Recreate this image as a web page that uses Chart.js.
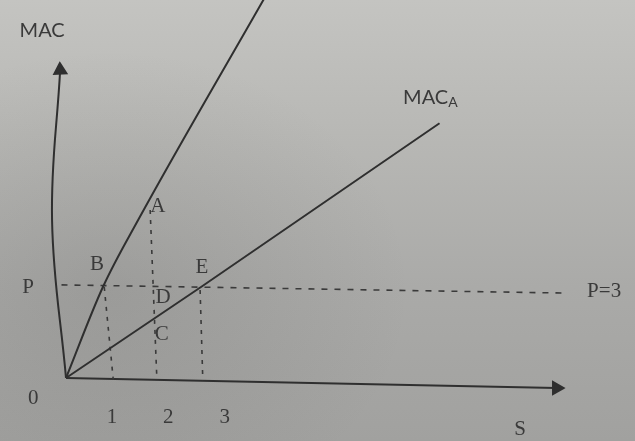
<!DOCTYPE html>
<html>
<head>
<meta charset="utf-8">
<script src="https://cdn.jsdelivr.net/npm/chart.js@4/dist/chart.umd.min.js"></script>
<style>
  html, body { margin: 0; padding: 0; }
  body {
    width: 635px; height: 441px; overflow: hidden;
    background:
      radial-gradient(ellipse 300px 240px at 110px 290px, rgba(80,80,78,0.16), rgba(80,80,78,0) 100%),
      linear-gradient(to bottom, #c4c4c1 0%, #b8b8b5 30%, #aaaaa8 65%, #a1a19f 100%);
  }
  #wrap { position: relative; width: 635px; height: 441px; }
</style>
</head>
<body>
<div id="wrap"><canvas id="macChart" width="635" height="441"></canvas></div>
<script>
// Data: x = S (abatement), y = MAC
// steep curve (unlabelled MAC of the other firm)
const steepS = [0, 0.82, 1.6, 4.4];
const steepM = [0, 3.0, 5.2, 12.5];
// MAC_A
const macAS = [0, 3, 8.3];
const macAM = [0, 3, 8.4];
// price line P = 3
const priceS = [-0.1, 11.1];
const priceM = [3.07, 2.8];
// dropped dashed lines at B, A/D/C and E
const dropB = { s: [0.85, 1.05], m: [3.0, -0.05] };
const dropA = { s: [1.87, 2.02], m: [5.54, -0.07] };
const dropE = { s: [2.98, 3.04], m: [2.9, -0.07] };
// axes (slightly bent in the photo)
const xAxisS = [0, 10.9];
const xAxisM = [0, -0.33];
const yAxisS = [0, -0.31, -0.13];
const yAxisM = [0, 5.21, 10.15];

const xTickLabels = ['1', '2', '3'];
const xTickPos = [1.02, 2.27, 3.53];

const ink = '#2f2f2f';
const dashInk = '#3a3a3a';
const textInk = '#3a3a3a';

function pts(xs, ys) {
    return xs.map((x, i) => ({ x: x, y: ys[i] }));
}

// Text labels placed in data coordinates
const labels = [
    { t: 'A', s: 2.04, m: 5.64 },
    { t: 'B', s: 0.69, m: 3.73 },
    { t: 'E', s: 3.02, m: 3.63 },
    { t: 'D', s: 2.16, m: 2.67 },
    { t: 'C', s: 2.13, m: 1.42 },
    { t: 'P', s: -0.84, m: 2.97 },
    { t: '0', s: -0.73, m: -0.66 },
    { t: 'S', s: 10.09, m: -1.71 }
];

const textPlugin = {
    id: 'textPlugin',
    afterDatasetsDraw(chart) {
        const ctx = chart.ctx;
        const xs = chart.scales.x, ys = chart.scales.y;
        ctx.save();
        ctx.fillStyle = textInk;
        ctx.textAlign = 'center';
        ctx.textBaseline = 'middle';
        ctx.font = '21px "Liberation Serif"';
        labels.forEach(l => {
            ctx.fillText(l.t, xs.getPixelForValue(l.s), ys.getPixelForValue(l.m));
        });
        xTickLabels.forEach((t, i) => {
            ctx.fillText(t, xs.getPixelForValue(xTickPos[i]), ys.getPixelForValue(-1.3));
        });
        // P=3
        ctx.textAlign = 'left';
        ctx.fillText('P=3', xs.getPixelForValue(11.58), ys.getPixelForValue(2.84));
        // MAC (y axis title)
        ctx.font = '20px Lato';
        ctx.textAlign = 'center';
        ctx.fillText('MAC', xs.getPixelForValue(-0.53), ys.getPixelForValue(11.47));
        // MAC_A
        ctx.textAlign = 'left';
        const mx = xs.getPixelForValue(7.49), my = ys.getPixelForValue(9.26);
        ctx.fillText('MAC', mx, my);
        const w = ctx.measureText('MAC').width;
        ctx.font = '14px Lato';
        ctx.fillText('A', mx + w, my + 5);
        ctx.restore();
    }
};

new Chart(document.getElementById('macChart'), {
    type: 'scatter',
    data: {
        datasets: [
            {
                data: pts(steepS, steepM),
                showLine: true, borderColor: ink, borderWidth: 2, pointRadius: 0,
                cubicInterpolationMode: 'monotone'
            },
            {
                data: pts(macAS, macAM),
                showLine: true, borderColor: ink, borderWidth: 2, pointRadius: 0
            },
            {
                data: pts(priceS, priceM),
                showLine: true, borderColor: dashInk, borderWidth: 1.6,
                borderDash: [6, 7], pointRadius: 0
            },
            {
                data: pts(dropB.s, dropB.m),
                showLine: true, borderColor: dashInk, borderWidth: 1.6,
                borderDash: [4, 6], pointRadius: 0
            },
            {
                data: pts(dropA.s, dropA.m),
                showLine: true, borderColor: dashInk, borderWidth: 1.6,
                borderDash: [4, 6], pointRadius: 0
            },
            {
                data: pts(dropE.s, dropE.m),
                showLine: true, borderColor: dashInk, borderWidth: 1.6,
                borderDash: [4, 6], pointRadius: 0
            },
            {
                // x axis with arrow head
                data: pts(xAxisS, xAxisM),
                showLine: true, borderColor: ink, borderWidth: 2,
                pointStyle: 'triangle', pointRadius: [0, 7], pointRotation: 90,
                pointBackgroundColor: ink, pointBorderColor: ink
            },
            {
                // y axis with arrow head
                data: pts(yAxisS, yAxisM),
                showLine: true, borderColor: ink, borderWidth: 2, tension: 0.4,
                pointStyle: 'triangle', pointRadius: [0, 0, 7], pointRotation: -3,
                pointBackgroundColor: ink, pointBorderColor: ink
            }
        ]
    },
    options: {
        responsive: false,
        animation: false,
        layout: { padding: 0, autoPadding: false },
        plugins: {
            legend: { display: false },
            tooltip: { enabled: false }
        },
        scales: {
            x: { type: 'linear', display: false, min: -1.4667, max: 12.644 },
            y: { type: 'linear', display: false, min: -2.077, max: 12.462 }
        }
    },
    plugins: [textPlugin]
});
</script>
</body>
</html>
